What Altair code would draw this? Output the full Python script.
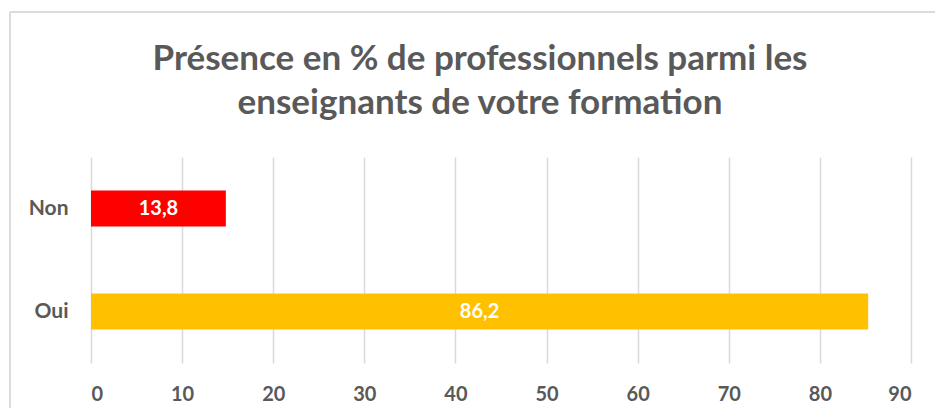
import altair as alt
import pandas as pd

categories = ["Non", "Oui"]
bar_values = [14.8, 85.3]
label_texts = ["13,8", "86,2"]
colors = ["#FF0000", "#FFC000"]
x_ticks = [0, 10, 20, 30, 40, 50, 60, 70, 80, 90]

df = pd.DataFrame({"cat": categories, "val": bar_values, "lab": label_texts, "col": colors})
df["half"] = df["val"] / 2

FONT = "Lato"
GREY = "#595959"

y_enc = alt.Y("cat:N", sort=categories, title=None,
              scale=alt.Scale(paddingInner=0.65, paddingOuter=0.325),
              axis=alt.Axis(ticks=False, domain=False, labelPadding=23, labelFontSize=21,
                            labelFontWeight="bold", labelColor=GREY, labelFont=FONT, grid=False))

bars = alt.Chart(df).mark_bar().encode(
    x=alt.X("val:Q", title=None,
            scale=alt.Scale(domain=[0, 90], nice=False),
            axis=alt.Axis(values=x_ticks, ticks=False, domain=False, labelPadding=21,
                          labelFontSize=20, labelFontWeight="bold", labelColor=GREY,
                          labelFont=FONT, grid=True, gridColor="#d9d9d9", gridWidth=1.5)),
    y=y_enc,
    color=alt.Color("col:N", scale=None, legend=None),
)

labels = alt.Chart(df).mark_text(color="white", fontWeight="bold", fontSize=20, font=FONT).encode(
    x=alt.X("half:Q"),
    y=alt.Y("cat:N", sort=categories),
    text="lab:N",
)

border_top = alt.Chart(df).mark_rule(color="#d9d9d9", strokeWidth=1.5).encode(
    x=alt.value(-81), x2=alt.value(900), y=alt.value(-145))
border_left = alt.Chart(df).mark_rule(color="#d9d9d9", strokeWidth=1.5).encode(
    x=alt.value(-81), y=alt.value(-145), y2=alt.value(300))

chart = alt.layer(border_top, border_left, bars, labels).properties(
    width=820, height=206,
    background="white",
    title=alt.TitleParams(
        ["Présence en % de professionnels parmi les", "enseignants de votre formation"],
        fontSize=35, fontWeight="bold", color=GREY, font=FONT, anchor="middle",
        baseline="alphabetic", dx=-21, offset=-138, lineHeight=44),
    autosize=alt.AutoSizeParams(type="none"),
    padding={"left": 83, "top": 149, "right": 24, "bottom": 45},
).configure_view(stroke="transparent", strokeWidth=0)

chart.save("out.html", embed_options={"renderer": "svg", "actions": False})
